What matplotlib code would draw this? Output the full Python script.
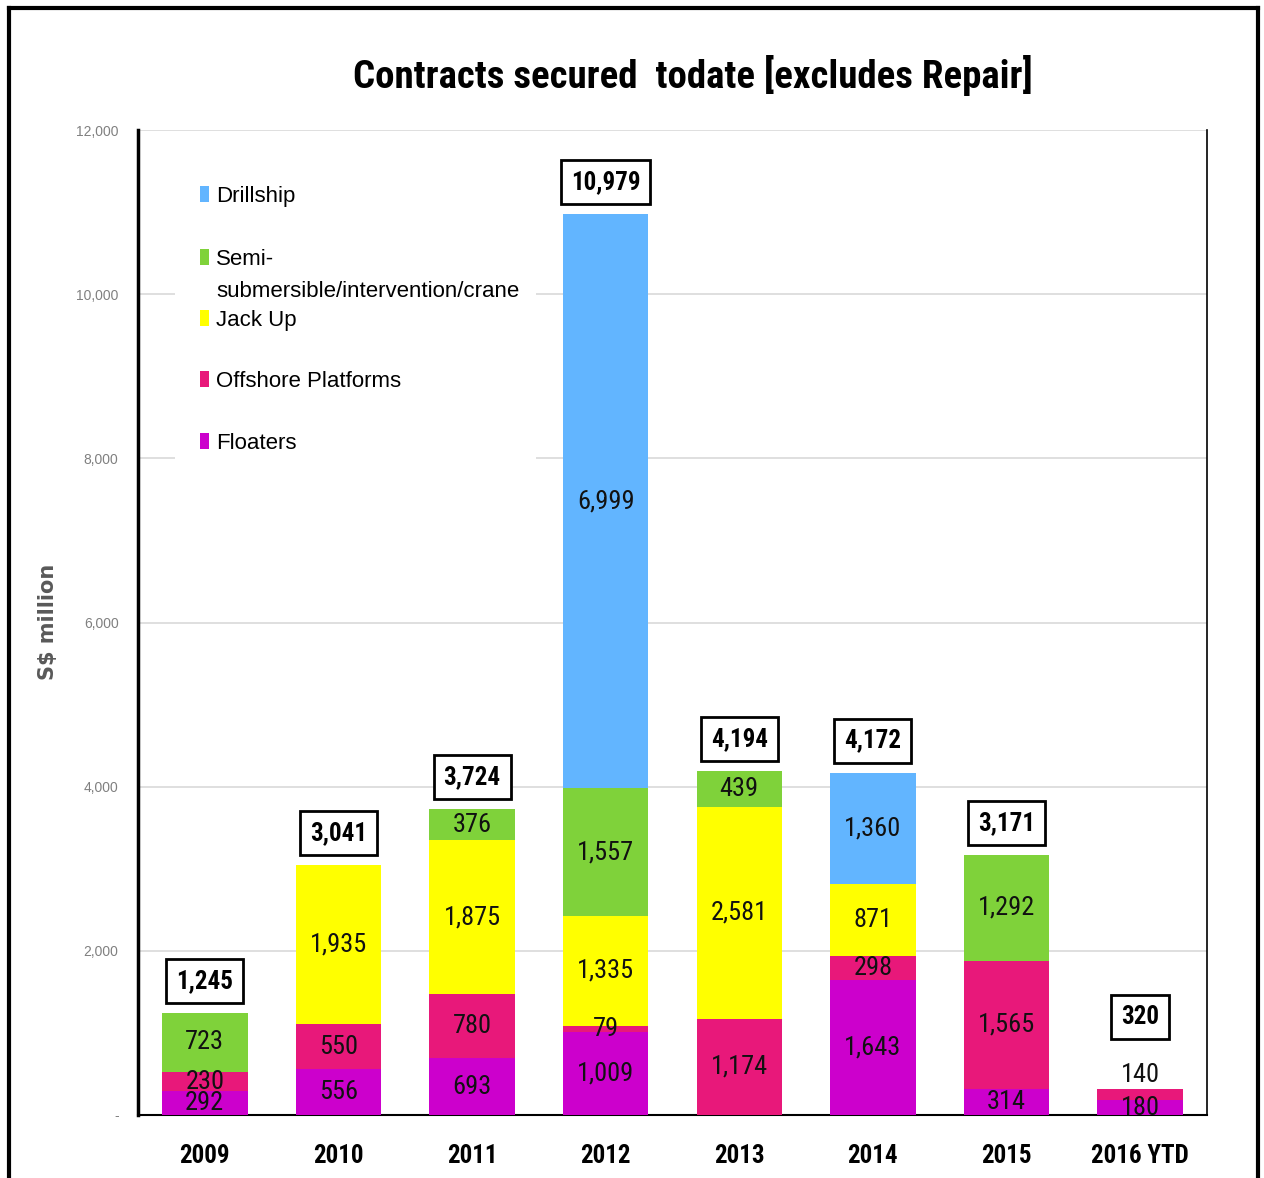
import numpy as np
import matplotlib.pyplot as plt
import matplotlib.font_manager as fm
from matplotlib.patches import Rectangle
from matplotlib.lines import Line2D
from matplotlib.ticker import FuncFormatter

plt.rcParams["font.family"] = ["Liberation Sans", "DejaVu Sans"]

# look for a narrow sans face (the original uses an Arial Narrow look)
NARROW = None
pref = ["liberation sans narrow", "arial narrow", "roboto condensed",
        "open sans condensed", "noto sans", "dejavu sans", "liberation sans",
        "roboto", "open sans", "lato", "inter"]
found = []
for f in fm.fontManager.ttflist:
    low = f.name.lower()
    if any(bad in low for bad in ("mono", "serif", "cjk", "math")):
        continue
    if "narrow" in low or "condensed" in low or f.stretch in ("condensed", "semi-condensed", "extra-condensed"):
        rank = next((i for i, p in enumerate(pref) if low.startswith(p)), 99)
        found.append((rank, f.name, f.stretch))
if found:
    found.sort()
    NARROW = dict(family=[found[0][1], "DejaVu Sans"], stretch=found[0][2])
NF = NARROW if NARROW else dict(family=["Liberation Sans", "DejaVu Sans"])

# ── data (S$ million) ───────────────────────────────────────────────────────
years = ["2009", "2010", "2011", "2012", "2013", "2014", "2015", "2016 YTD"]

floaters  = [292, 556, 693, 1009,    0, 1643,  314, 180]
offshore  = [230, 550, 780,   79, 1174,  298, 1565, 140]
jackup    = [  0, 1935, 1875, 1335, 2581, 871,   0,   0]
semisub   = [723,   0, 376, 1557,  439,    0, 1292,   0]
drillship = [  0,   0,   0, 6999,    0, 1360,    0,   0]

series_names = ["Floaters", "Offshore Platforms", "Jack Up",
                "Semi-\nsubmersible/intervention/crane", "Drillship"]
series_vals  = [floaters, offshore, jackup, semisub, drillship]
colours      = ["#CC00CC", "#E8187A", "#FFFF00", "#7FD23A", "#62B5FF"]

totals = np.sum(series_vals, axis=0)

# ── figure ──────────────────────────────────────────────────────────────────
fig = plt.figure(figsize=(12.64, 11.78), dpi=100)
ax = fig.add_axes([138 / 1264, 1 - 1115 / 1178, 1069 / 1264, 985 / 1178])

x = np.arange(len(years))
bottom = np.zeros(len(years))
for name, vals, clr in zip(series_names, series_vals, colours):
    vals = np.array(vals, dtype=float)
    ax.bar(x, vals, 0.64, bottom=bottom, color=clr, zorder=3)
    for i, v in enumerate(vals):
        if v <= 0:
            continue
        yc = bottom[i] + v / 2
        dy = 0
        # 2016 platform value sits above the thin bar
        if i == 7 and name == "Offshore Platforms":
            dy = 14
        ax.annotate(f"{int(v):,}", (x[i], yc), xytext=(0, dy),
                    textcoords="offset points", ha="center", va="center",
                    fontsize=19 if NARROW else 17, color="#111111",
                    zorder=5, **NF)
    bottom += vals

# totals in boxes
for i, t in enumerate(totals):
    off = 23 if i < 7 else 52
    ax.annotate(f"{int(t):,}", (x[i], t), xytext=(0, off),
                textcoords="offset points", ha="center", va="center",
                fontsize=18 if NARROW else 17, fontweight="bold", zorder=6,
                bbox=dict(boxstyle="square,pad=0.4", fc="white",
                          ec="black", lw=2), **NF)

# axes styling
ax.set_xlim(-0.5, len(years) - 0.5)
ax.set_ylim(0, 12000)
ax.set_yticks(np.arange(0, 12001, 2000))
ax.yaxis.set_major_formatter(FuncFormatter(lambda v, p: "-" if v == 0 else f"{int(v):,}"))
ax.tick_params(axis="y", length=0, labelsize=10, labelcolor="#808080", pad=14)
ax.set_xticks(x)
ax.set_xticklabels(years, fontsize=18 if NARROW else 17, fontweight="bold", **NF)
ax.tick_params(axis="x", length=0, pad=21)
ax.grid(axis="y", color="#D9D9D9", lw=1.2, zorder=0)
ax.set_axisbelow(True)
ax.spines["top"].set_visible(False)
ax.spines["left"].set_linewidth(2.5)
ax.spines["bottom"].set_linewidth(1.5)
ax.spines["right"].set_linewidth(1.2)

# legend drawn by hand (white panel over the grid)
ax.add_patch(Rectangle((0.035, 0.66), 0.337, 0.32, transform=ax.transAxes,
                       fc="white", ec="none", zorder=2))
leg_order = [4, 3, 2, 1, 0]
leg_y = [0.935, 0.871, 0.809, 0.747, 0.684]
for k, yy in zip(leg_order, leg_y):
    ax.add_patch(Rectangle((0.058, yy - 0.008), 0.0085, 0.016,
                           transform=ax.transAxes, fc=colours[k], ec="none",
                           zorder=4))
    if "\n" in series_names[k]:
        ax.text(0.073, yy + 0.008, series_names[k], transform=ax.transAxes,
                ha="left", va="top", fontsize=16, linespacing=1.65, zorder=4)
    else:
        ax.text(0.073, yy - 0.0025, series_names[k], transform=ax.transAxes,
                ha="left", va="center", fontsize=16, zorder=4)

# title and y label
fig.text(693 / 1264, 1 - 75 / 1178, "Contracts secured  todate [excludes Repair]",
         ha="center", va="center", fontsize=28 if NARROW else 26,
         fontweight="bold", **NF)
fig.text(48 / 1264, 1 - 622 / 1178, "S$ million", rotation=90, ha="center",
         va="center", fontsize=15, fontweight="bold", color="#595959",
         family=["DejaVu Sans"])

# outer frame
for xs, ys in [([9 / 1264, 9 / 1264], [0, 1 - 8 / 1178]),
               ([9 / 1264, 1258 / 1264], [1 - 8 / 1178, 1 - 8 / 1178]),
               ([1258 / 1264, 1258 / 1264], [0, 1 - 8 / 1178])]:
    fig.add_artist(Line2D(xs, ys, color="black", lw=3))

fig.savefig("out.png", dpi=100)
